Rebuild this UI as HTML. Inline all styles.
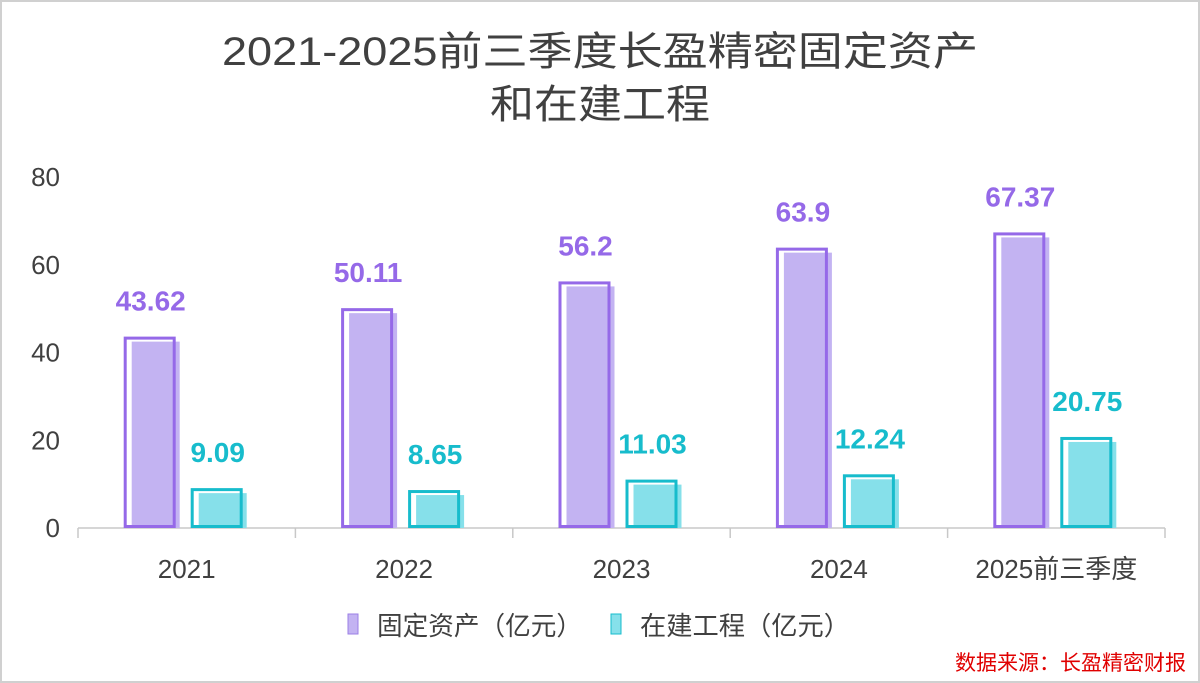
<!DOCTYPE html>
<html><head><meta charset="utf-8"><style>
body{margin:0;background:#fff}
svg{display:block;font-family:"Liberation Sans","Noto Sans CJK SC",sans-serif}
</style></head><body>
<svg id="c" width="1200" height="683" viewBox="0 0 1200 683">
<rect x="1" y="1" width="1198" height="681" fill="#fff" stroke="#d0d0d0" stroke-width="2"/>
<text x="222" y="65" textLength="756" lengthAdjust="spacingAndGlyphs" font-size="40" fill="#404040">2021-2025前三季度长盈精密固定资产</text>
<text x="490" y="118" textLength="220" lengthAdjust="spacingAndGlyphs" font-size="40" fill="#404040">和在建工程</text>
<g id="axes"></g><g id="bars"></g>
<rect x="348" y="614" width="10" height="20" fill="#c3b3f2" stroke="#9b7fe6"/>
<text x="377" y="635" textLength="205" lengthAdjust="spacingAndGlyphs" font-size="26" fill="#404040">固定资产（亿元）</text>
<rect x="611" y="614" width="10" height="20" fill="#86e0ea" stroke="#17bccc"/>
<text x="640" y="635" textLength="210" lengthAdjust="spacingAndGlyphs" font-size="26" fill="#404040">在建工程（亿元）</text>
<text x="1186" y="670" text-anchor="end" font-size="21" fill="#e00000">数据来源：长盈精密财报</text>
</svg>
<script>
const categories=["2021","2022","2023","2024","2025前三季度"];
const fixedAssets=[43.62,50.11,56.2,63.9,67.37];
const construction=[9.09,8.65,11.03,12.24,20.75];
const yTicks=[0,20,40,60,80];
const NS="http://www.w3.org/2000/svg";
const x0=78,x1=1165,y0=528,yTop=177,yMax=80;
const band=(x1-x0)/categories.length;
const y=v=>y0-(v/yMax)*(y0-yTop);
const cx=i=>x0+band*(i+0.5);
function mk(tag,attrs,parent,text){const e=document.createElementNS(NS,tag);for(const k in attrs)e.setAttribute(k,attrs[k]);if(text!==undefined)e.textContent=text;parent.appendChild(e);return e;}
const ax=document.getElementById('axes'),bg=document.getElementById('bars');
yTicks.forEach(t=>{const e=mk('text',{x:60,y:y(t)+9,'text-anchor':'end','font-size':26,fill:'#404040'},ax,t);

});
let l=mk('line',{x1:x0,x2:x1,y1:y0,y2:y0,stroke:'#c8c8c8','stroke-width':1.5},ax);


for(let i=0;i<=categories.length;i++){const t=mk('line',{x1:x0+band*i,x2:x0+band*i,y1:y0,y2:y0+10,stroke:'#c8c8c8','stroke-width':1.5},ax);

}
categories.forEach((c,i)=>{const e=mk('text',{x:cx(i),y:578,'text-anchor':'middle','font-size':26,fill:'#404040'},ax,c);

});
function bar(i,v,off,fill,stroke,name){
 const xl=cx(i)+off, top=y(v);
 const f=mk('rect',{x:xl+8,y:top+5,width:48,height:y0-top-5,fill:fill},bg);
 
 
 const o=mk('rect',{x:xl+1.5,y:top+1.5,width:49,height:y0-top-3,fill:'none',stroke:stroke,'stroke-width':3},bg);
 
 
 const t=mk('text',{x:xl+27,y:top-26,'text-anchor':'middle','font-size':28,'font-weight':'bold',fill:stroke},bg,v);
 
 
}
categories.forEach((c,i)=>{
 bar(i,fixedAssets[i],-63,'#c3b3f2','#9569e8','bar-fixed-assets-'+c);
 bar(i,construction[i],4,'#86e0ea','#17bccc','bar-construction-'+c);
});
</script>
</body></html>
